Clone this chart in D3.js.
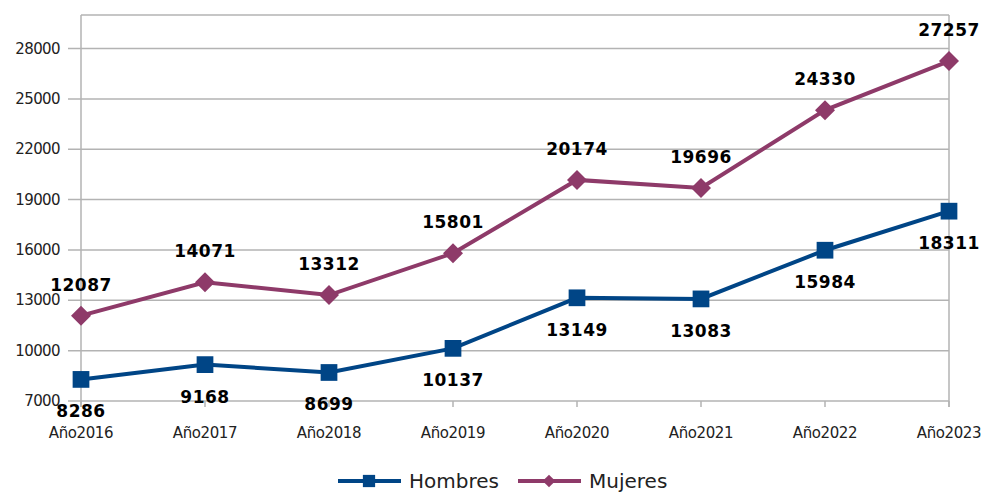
<!DOCTYPE html>
<html>
<head>
<meta charset="utf-8">
<script src="https://cdn.jsdelivr.net/npm/d3@7"></script>
<style>
  body { margin: 0; background: #fff; }
  text { font-family: "DejaVu Sans", sans-serif; }
</style>
</head>
<body>
<div id="chart"></div>
<script>
// chart data
const years = ["Año2016", "Año2017", "Año2018", "Año2019", "Año2020", "Año2021", "Año2022", "Año2023"];
const hombres = [8286, 9168, 8699, 10137, 13149, 13083, 15984, 18311];
const mujeres = [12087, 14071, 13312, 15801, 20174, 19696, 24330, 27257];
const yTicks = [7000, 10000, 13000, 16000, 19000, 22000, 25000, 28000];

const width = 987, height = 493;
const margin = { top: 15, right: 38, bottom: 92, left: 81 };

const svg = d3.select('#chart').append('svg')
  .attr('width', width)
  .attr('height', height);

const x = d3.scalePoint()
  .domain(years)
  .range([margin.left, width - margin.right]);

const y = d3.scaleLinear()
  .domain([7000, 30000])
  .range([height - margin.bottom, margin.top]);

const gridColor = '#b3b3b3';

// gridlines
svg.append('g')
  .selectAll('line')
  .data(yTicks)
  .enter().append('line')
  .attr('x1', margin.left - 13)
  .attr('x2', width - margin.right)
  .attr('y1', d => y(d))
  .attr('y2', d => y(d))
  .attr('stroke', gridColor)
  .attr('stroke-width', 1.5);

// top border
svg.append('line')
  .attr('x1', margin.left).attr('x2', width - margin.right)
  .attr('y1', y(30000)).attr('y2', y(30000))
  .attr('stroke', gridColor).attr('stroke-width', 1.5);

// vertical lines at first/last category
svg.append('g')
  .selectAll('line')
  .data([years[0], years[years.length - 1]])
  .enter().append('line')
  .attr('x1', d => x(d)).attr('x2', d => x(d))
  .attr('y1', y(30000)).attr('y2', y(7000) + 6)
  .attr('stroke', gridColor)
  .attr('stroke-width', 1.5);

// category tick marks
svg.append('g')
  .selectAll('line')
  .data(years)
  .enter().append('line')
  .attr('x1', d => x(d)).attr('x2', d => x(d))
  .attr('y1', y(7000)).attr('y2', y(7000) + 6)
  .attr('stroke', gridColor)
  .attr('stroke-width', 1.5);

// y tick labels
svg.append('g')
  .selectAll('text')
  .data(yTicks)
  .enter().append('text')
  .attr('x', margin.left - 21)
  .attr('y', d => y(d) + 5)
  .attr('text-anchor', 'end')
  .attr('font-size', 15)
  .attr('letter-spacing', -0.6)
  .attr('fill', '#222')
  .text(d => d);

// x tick labels
svg.append('g')
  .selectAll('text')
  .data(years)
  .enter().append('text')
  .attr('x', d => x(d))
  .attr('y', y(7000) + 37)
  .attr('text-anchor', 'middle')
  .attr('font-size', 15)
  .attr('letter-spacing', -0.4)
  .attr('fill', '#222')
  .text(d => d);

// rotated square for the diamond marker
const diamond = {
  draw(ctx, size) {
    const r = Math.sqrt(size / 2);
    ctx.moveTo(0, -r); ctx.lineTo(r, 0); ctx.lineTo(0, r); ctx.lineTo(-r, 0); ctx.closePath();
  }
};

const series = [
  { name: 'Hombres', values: hombres, color: '#004586', marker: d3.symbolSquare, size: 280, legendSize: 150, below: true },
  { name: 'Mujeres', values: mujeres, color: '#8e3a69', marker: diamond, size: 200, legendSize: 80, below: false }
];

const line = d3.line()
  .x((d, i) => x(years[i]))
  .y(d => y(d));

series.forEach(s => {
  svg.append('path')
    .datum(s.values)
    .attr('d', line)
    .attr('fill', 'none')
    .attr('stroke', s.color)
    .attr('stroke-width', 4);

  svg.append('g')
    .selectAll('path')
    .data(s.values)
    .enter().append('path')
    .attr('transform', (d, i) => `translate(${x(years[i])},${y(d)})`)
    .attr('d', d3.symbol().type(s.marker).size(s.size))
    .attr('fill', s.color);

  svg.append('g')
    .selectAll('text')
    .data(s.values)
    .enter().append('text')
    .attr('x', (d, i) => x(years[i]))
    .attr('y', d => s.below ? y(d) + 38 : y(d) - 25)
    .attr('text-anchor', 'middle')
    .attr('font-size', 17)
    .attr('font-weight', 'bold')
    .attr('letter-spacing', 0.5)
    .attr('fill', '#000')
    .text(d => d);
});

// legend
const legend = svg.append('g');
const legendItems = [
  { s: series[0], x0: 338 },
  { s: series[1], x0: 518 }
];
legendItems.forEach(it => {
  const ly = 481;
  legend.append('line')
    .attr('x1', it.x0).attr('x2', it.x0 + 63)
    .attr('y1', ly).attr('y2', ly)
    .attr('stroke', it.s.color).attr('stroke-width', 4);
  legend.append('path')
    .attr('transform', `translate(${it.x0 + 31},${ly})`)
    .attr('d', d3.symbol().type(it.s.marker).size(it.s.legendSize))
    .attr('fill', it.s.color);
  legend.append('text')
    .attr('x', it.x0 + 71)
    .attr('y', ly + 7)
    .attr('font-family', 'Liberation Sans, sans-serif')
    .attr('font-size', 20)
    .attr('fill', '#222')
    .text(it.s.name);
});
</script>
</body>
</html>
